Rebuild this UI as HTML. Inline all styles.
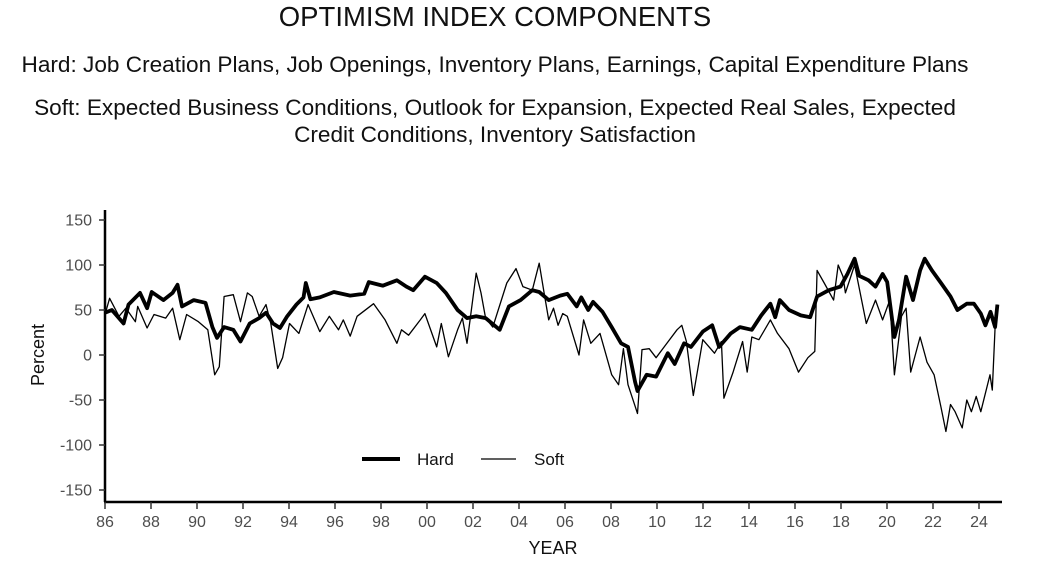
<!DOCTYPE html>
<html><head><meta charset="utf-8">
<style>
body{margin:0;background:#fff;width:1041px;height:574px;overflow:hidden;font-family:"Liberation Sans",sans-serif;}
.t{position:absolute;left:-10px;width:1010px;text-align:center;color:#111;white-space:nowrap;}
</style></head><body>
<div class="t" style="top:1px;font-size:27.5px;">OPTIMISM INDEX COMPONENTS</div>
<div class="t" style="top:52px;font-size:22.6px;">Hard: Job Creation Plans, Job Openings, Inventory Plans, Earnings, Capital Expenditure Plans</div>
<div class="t" style="top:94px;font-size:22.6px;line-height:27px;">Soft: Expected Business Conditions, Outlook for Expansion, Expected Real Sales, Expected<br>Credit Conditions, Inventory Satisfaction</div>
<svg id="c" width="1041" height="574" style="position:absolute;left:0;top:0"></svg>
<script>
const hardYears=[1986.0,1986.3,1986.81,1987.02,1987.52,1987.83,1988.03,1988.54,1988.94,1989.15,1989.35,1989.86,1990.37,1990.67,1990.87,1991.18,1991.58,1991.89,1992.29,1992.70,1993.0,1993.31,1993.61,1993.92,1994.32,1994.63,1994.73,1994.93,1995.34,1995.95,1996.66,1997.27,1997.47,1998.08,1998.69,1999.10,1999.40,1999.91,2000.42,2000.82,2001.33,2001.74,2002.14,2002.55,2003.16,2003.56,2004.07,2004.58,2004.88,2005.29,2005.79,2006.10,2006.51,2006.71,2007.01,2007.22,2007.63,2008.03,2008.44,2008.74,2009.05,2009.15,2009.55,2009.96,2010.47,2010.77,2011.18,2011.48,2011.99,2012.40,2012.70,2013.21,2013.61,2014.12,2014.53,2014.93,2015.14,2015.34,2015.74,2016.25,2016.66,2016.96,2017.47,2017.98,2018.28,2018.59,2018.79,2019.20,2019.50,2019.81,2020.01,2020.32,2020.52,2020.83,2021.13,2021.44,2021.64,2021.95,2022.35,2022.76,2023.06,2023.47,2023.78,2024.08,2024.28,2024.5,2024.7,2024.8];
const hardValues=[47,50,35,56,69,52,70,61,69,78,54,61,58,31,19,31,28,15,35,41,47,35,30,43,56,64,80,62,64,70,66,68,81,77,83,76,72,87,80,69,50,41,43,41,28,54,61,72,70,61,66,68,54,64,50,59,48,31,13,9,-30,-40,-22,-24,2,-10,13,9,26,33,9,24,31,28,44,57,42,61,50,44,42,65,72,76,90,107,88,83,76,90,81,20,39,87,61,94,107,94,80,65,50,57,57,46,33,48,31,56];
const softYears=[1986.0,1986.2,1986.61,1986.91,1987.32,1987.42,1987.83,1988.13,1988.64,1988.94,1989.25,1989.55,1990.06,1990.47,1990.77,1990.97,1991.18,1991.58,1991.89,1992.19,1992.40,1992.70,1993.0,1993.21,1993.51,1993.72,1994.02,1994.43,1994.83,1995.34,1995.75,1996.15,1996.36,1996.66,1996.96,1997.68,1998.18,1998.69,1998.89,1999.20,1999.71,1999.91,2000.42,2000.62,2000.93,2001.33,2001.54,2001.74,2002.14,2002.35,2002.55,2002.86,2003.47,2003.87,2004.17,2004.58,2004.88,2005.09,2005.29,2005.50,2005.70,2005.90,2006.10,2006.61,2006.81,2007.12,2007.52,2008.03,2008.33,2008.54,2008.74,2009.15,2009.35,2009.66,2009.96,2010.37,2010.87,2011.08,2011.28,2011.58,2011.99,2012.50,2012.80,2012.91,2013.31,2013.72,2013.92,2014.12,2014.43,2014.93,2015.24,2015.74,2016.15,2016.56,2016.86,2016.96,2017.27,2017.68,2017.88,2018.09,2018.19,2018.59,2019.10,2019.50,2019.81,2020.12,2020.32,2020.63,2020.83,2021.03,2021.44,2021.74,2022.05,2022.35,2022.56,2022.76,2022.96,2023.27,2023.47,2023.67,2023.88,2024.08,2024.48,2024.58,2024.7,2024.8];
const softValues=[45,63,43,52,37,54,30,45,41,52,17,45,37,28,-22,-13,65,67,37,69,65,43,56,35,-15,-3,35,24,56,26,43,28,39,21,43,57,39,13,28,22,39,46,9,35,-2,28,41,13,91,69,41,31,80,96,76,72,102,69,39,52,33,46,43,0,39,13,24,-22,-33,7,-33,-65,6,7,-3,11,28,33,15,-45,17,2,15,-48,-19,15,-19,20,17,39,24,7,-19,-3,4,94,80,61,100,87,69,100,35,61,39,61,-22,43,52,-19,20,-8,-22,-58,-85,-55,-63,-81,-50,-63,-46,-63,-22,-39,31,56];
const xTicks=["86","88","90","92","94","96","98","00","02","04","06","08","10","12","14","16","18","20","22","24"];
const yTicks=[150,100,50,0,-50,-100,-150];
const NS="http://www.w3.org/2000/svg";
const svg=document.getElementById('c');
const X=yr=>105+(yr-1986)*23.0;
const Y=v=>355-v*0.9;
function mk(t,a){const e=document.createElementNS(NS,t);for(const k in a)e.setAttribute(k,a[k]);svg.appendChild(e);return e;}
let e=mk('line',{x1:105,y1:210,x2:105,y2:502,stroke:'#000','stroke-width':2.5});


e=mk('line',{x1:104,y1:502,x2:1002,y2:502,stroke:'#000','stroke-width':2.5});


yTicks.forEach(v=>{
  const t=mk('line',{x1:99,x2:105,y1:Y(v),y2:Y(v),stroke:'#333','stroke-width':1.5});
  
  
  const l=mk('text',{x:92,y:Y(v)+5.5,'text-anchor':'end','font-size':16,fill:'#4d4d4d'});
  l.textContent=v;
  
  
});
xTicks.forEach((s,i)=>{
  const x=X(1986+2*i);
  const t=mk('line',{x1:x,x2:x,y1:502,y2:509,stroke:'#333','stroke-width':1.5});
  
  
  const l=mk('text',{x:x,y:527,'text-anchor':'middle','font-size':16,fill:'#4d4d4d'});
  l.textContent=s;
  
  
});
e=mk('text',{x:553,y:554,'text-anchor':'middle','font-size':18,fill:'#111'});
e.textContent='YEAR';


e=mk('text',{x:44,y:355,'text-anchor':'middle','font-size':18,fill:'#111',transform:'rotate(-90 44 355)'});
e.textContent='Percent';


function path(ys,vs){return ys.map((y,i)=>(i?'L':'M')+X(y).toFixed(1)+','+Y(vs[i]).toFixed(1)).join('');}
e=mk('path',{d:path(softYears,softValues),fill:'none',stroke:'#000','stroke-width':1.3,'stroke-linejoin':'round'});


e=mk('path',{d:path(hardYears,hardValues),fill:'none',stroke:'#000','stroke-width':3.8,'stroke-linejoin':'round'});


e=mk('line',{x1:362,x2:400,y1:459,y2:459,stroke:'#000','stroke-width':4});


e=mk('text',{x:417,y:465,'font-size':17,fill:'#111'});
e.textContent='Hard';


e=mk('line',{x1:481,x2:516,y1:459,y2:459,stroke:'#000','stroke-width':1.3});


e=mk('text',{x:534,y:465,'font-size':17,fill:'#111'});
e.textContent='Soft';


</script>
</body></html>
